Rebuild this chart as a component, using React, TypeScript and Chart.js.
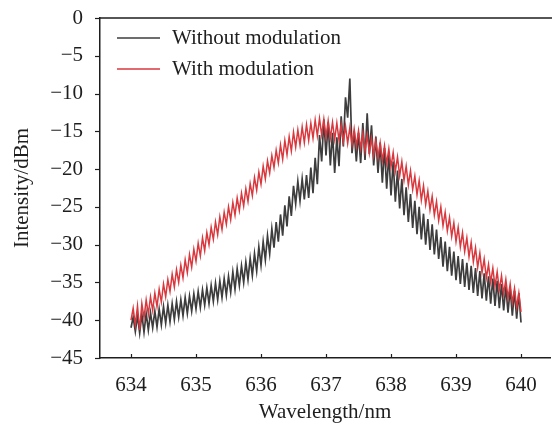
import { useEffect, useRef } from "react";
import { Chart, registerables } from "chart.js";

Chart.register(...registerables);

const WAVELENGTH_START = 634;
const WAVELENGTH_STEP = 1 / 30;
const X_TICKS = [634, 635, 636, 637, 638, 639, 640];
const Y_TICKS = [0, -5, -10, -15, -20, -25, -30, -35, -40, -45];
const SERIES_NAMES = ["Without modulation", "With modulation"];

const WITHOUT_MODULATION = [
  -41.0, -39.6, -41.5, -39.4, -41.7, -39.2, -41.6, -39.1, -41.3, -39.0,
  -41.0, -38.8, -40.9, -38.5, -40.6, -38.2, -40.4, -38.0, -40.2, -37.8,
  -39.9, -37.5, -39.6, -37.3, -39.4, -37.0, -39.1, -36.8, -38.8, -36.5,
  -38.5, -36.2, -38.3, -36.0, -38.0, -35.7, -37.8, -35.4, -37.5, -35.1,
  -37.3, -34.8, -37.0, -34.5, -36.7, -34.2, -36.3, -33.6, -35.9, -33.2,
  -35.4, -32.8, -35.0, -32.3, -34.6, -31.8, -34.1, -31.2, -33.5, -30.3,
  -32.7, -29.6, -32.0, -28.8, -31.2, -27.9, -30.4, -27.0, -29.6, -26.0,
  -28.8, -24.8, -27.6, -23.6, -26.2, -22.2, -24.6, -21.6, -24.2, -21.3,
  -24.0, -20.8, -23.8, -19.8, -23.2, -18.5, -22.0, -15.5, -19.0, -13.4,
  -18.2, -13.8, -19.5, -15.2, -20.5, -15.8, -19.6, -13.0, -17.0, -10.5,
  -13.2, -8.0, -17.9, -15.0, -19.0, -15.2, -19.2, -13.9, -18.8, -12.6,
  -18.0, -14.2, -19.5, -15.7, -20.5, -16.5, -21.8, -17.2, -22.6, -18.0,
  -23.5, -19.0, -24.3, -20.2, -25.2, -21.3, -26.1, -22.4, -27.0, -23.3,
  -27.8, -24.2, -28.6, -25.0, -29.3, -25.9, -30.0, -26.6, -30.7, -27.3,
  -31.3, -28.0, -31.9, -29.0, -32.9, -29.6, -33.5, -30.3, -34.1, -30.9,
  -34.7, -31.5, -35.2, -31.9, -35.6, -32.4, -36.0, -32.8, -36.4, -33.1,
  -36.8, -33.5, -37.1, -33.8, -37.4, -34.2, -37.8, -34.5, -38.1, -34.8,
  -38.4, -35.2, -38.7, -35.5, -39.0, -35.8, -39.4, -36.1, -39.8, -36.4,
  -40.3,
];

const WITH_MODULATION = [
  -40.0, -38.4, -40.6, -38.1, -41.3, -37.8, -39.7, -37.3, -39.2, -36.9,
  -38.7, -36.4, -38.2, -35.9, -37.6, -35.2, -36.9, -34.6, -36.2, -33.9,
  -35.6, -33.3, -35.0, -32.7, -34.4, -32.0, -33.7, -31.3, -33.0, -30.6,
  -32.2, -29.8, -31.5, -29.1, -30.8, -28.4, -30.0, -27.7, -29.3, -27.0,
  -28.7, -26.3, -28.0, -25.7, -27.3, -25.0, -26.7, -24.4, -26.1, -23.8,
  -25.5, -23.2, -24.9, -22.6, -24.3, -21.9, -23.5, -21.1, -22.8, -20.4,
  -22.0, -19.6, -21.3, -18.9, -20.5, -18.2, -19.8, -17.5, -19.2, -16.8,
  -18.7, -16.2, -18.1, -15.7, -17.6, -15.1, -17.1, -14.8, -16.8, -14.4,
  -16.5, -14.1, -16.2, -13.9, -15.9, -13.5, -15.6, -13.3, -15.5, -13.4,
  -15.8, -13.6, -15.9, -13.8, -16.1, -13.9, -16.2, -14.1, -16.4, -14.3,
  -16.6, -14.5, -16.8, -14.7, -17.0, -14.9, -17.3, -15.2, -17.6, -15.5,
  -17.9, -15.9, -18.2, -16.2, -18.5, -16.5, -18.9, -16.9, -19.3, -17.3,
  -19.7, -17.8, -20.3, -18.4, -20.9, -19.0, -21.5, -19.6, -22.1, -20.2,
  -22.7, -20.9, -23.4, -21.5, -24.1, -22.2, -24.7, -22.9, -25.4, -23.6,
  -26.1, -24.3, -26.8, -25.0, -27.5, -25.7, -28.2, -26.4, -28.9, -27.1,
  -29.6, -27.7, -30.3, -28.4, -30.9, -29.1, -31.6, -29.7, -32.3, -30.4,
  -33.0, -31.1, -33.7, -31.9, -34.4, -32.6, -35.0, -33.1, -35.5, -33.6,
  -36.0, -34.1, -36.5, -34.6, -37.1, -35.2, -37.7, -35.8, -38.3, -36.4,
  -38.9,
];

const COLORS = ["#3d3d3d", "#d9393e"];
const FONT = "'Liberation Serif', 'Times New Roman', serif";
const FONT_SIZE = 21;
const TEXT_COLOR = "#1e1e1e";

function toPoints(values: number[]) {
  return values.map((y, i) => ({ x: WAVELENGTH_START + i * WAVELENGTH_STEP, y }));
}

function formatY(v: number) {
  return v < 0 ? "\u2212" + Math.abs(v) : String(v);
}

const framePlugin = {
  id: "frame",
  afterDraw(chart: any) {
    const { ctx, chartArea, scales } = chart;
    const { left, top, bottom } = chartArea;
    ctx.save();
    ctx.strokeStyle = TEXT_COLOR;
    ctx.lineWidth = 1.5;
    ctx.beginPath();
    ctx.moveTo(left, top);
    ctx.lineTo(chart.width, top);
    ctx.stroke();
    ctx.lineWidth = 1.2;
    X_TICKS.forEach((v) => {
      const x = Math.round(scales.x.getPixelForValue(v)) + 0.5;
      ctx.beginPath();
      ctx.moveTo(x, bottom);
      ctx.lineTo(x, bottom - 4);
      ctx.stroke();
    });
    Y_TICKS.forEach((v) => {
      const y = Math.round(scales.y.getPixelForValue(v)) + 0.5;
      ctx.beginPath();
      ctx.moveTo(left, y);
      ctx.lineTo(left - 5, y);
      ctx.stroke();
    });
    ctx.font = `${FONT_SIZE}px ${FONT}`;
    ctx.textBaseline = "middle";
    ctx.textAlign = "left";
    const rows = [38, 69];
    SERIES_NAMES.forEach((name, i) => {
      ctx.strokeStyle = COLORS[i];
      ctx.lineWidth = 1.5;
      ctx.beginPath();
      ctx.moveTo(117, rows[i]);
      ctx.lineTo(160, rows[i]);
      ctx.stroke();
      ctx.fillStyle = TEXT_COLOR;
      ctx.fillText(name, 172, rows[i]);
    });
    ctx.restore();
  },
};

export default function App() {
  const canvasRef = useRef<HTMLCanvasElement | null>(null);

  useEffect(() => {
    document.body.style.margin = "0";
    const canvas = canvasRef.current;
    if (!canvas) return;
    const chart = new Chart(canvas, {
      type: "line",
      data: {
        datasets: [
          {
            label: SERIES_NAMES[0],
            data: toPoints(WITHOUT_MODULATION),
            borderColor: COLORS[0],
            borderWidth: 1.7,
            pointRadius: 0,
            tension: 0,
            order: 1,
          },
          {
            label: SERIES_NAMES[1],
            data: toPoints(WITH_MODULATION),
            borderColor: COLORS[1],
            borderWidth: 1.5,
            pointRadius: 0,
            tension: 0,
            order: 0,
          },
        ],
      },
      options: {
        animation: false,
        responsive: false,
        layout: { padding: { top: 18, right: 2, left: 0, bottom: 0 } },
        plugins: {
          legend: { display: false },
          tooltip: { enabled: false },
        },
        scales: {
          x: {
            type: "linear",
            min: 633.523,
            max: 640.446,
            grid: { display: false, drawTicks: false },
            border: { display: true, color: TEXT_COLOR, width: 1.5 },
            ticks: {
              font: { family: FONT, size: FONT_SIZE },
              color: TEXT_COLOR,
              padding: 15,
              maxRotation: 0,
              callback: (v: any) => String(v),
            },
            afterBuildTicks: (s: any) => {
              s.ticks = X_TICKS.map((v) => ({ value: v }));
            },
            afterFit: (s: any) => {
              s.height = 70;
              s.paddingLeft = 0;
              s.paddingRight = 0;
            },
            title: {
              display: true,
              text: "Wavelength/nm",
              font: { family: FONT, size: FONT_SIZE },
              color: TEXT_COLOR,
              padding: { top: 0, bottom: 3 },
            },
          },
          y: {
            type: "linear",
            min: -45,
            max: 0,
            grid: { display: false, drawTicks: false },
            border: { display: true, color: TEXT_COLOR, width: 1.5 },
            ticks: {
              font: { family: FONT, size: FONT_SIZE },
              color: TEXT_COLOR,
              padding: 17,
              callback: (v: any) => formatY(Number(v)),
            },
            afterBuildTicks: (s: any) => {
              s.ticks = Y_TICKS.map((v) => ({ value: v }));
            },
            afterFit: (s: any) => {
              s.width = 100;
              s.paddingTop = 0;
              s.paddingBottom = 0;
            },
            title: {
              display: true,
              text: "Intensity/dBm",
              font: { family: FONT, size: FONT_SIZE },
              color: TEXT_COLOR,
              padding: { top: 10, bottom: 0 },
            },
          },
        },
      },
      plugins: [framePlugin],
    });
    return () => chart.destroy();
  }, []);

  return (
    <div style={{ width: 552, height: 428 }}>
      <canvas ref={canvasRef} width={552} height={428} />
    </div>
  );
}
